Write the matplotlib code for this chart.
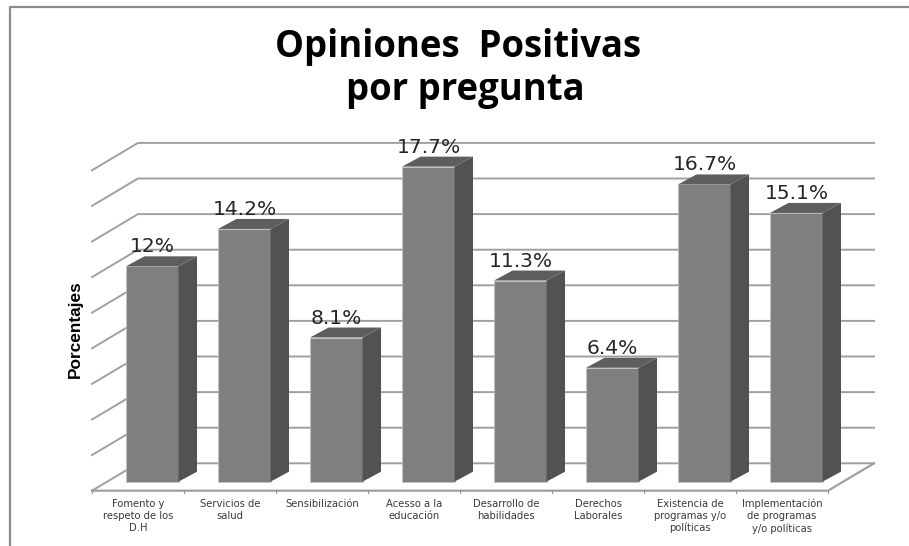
import numpy as np
import matplotlib
matplotlib.use('Agg')
import matplotlib.pyplot as plt
from matplotlib.lines import Line2D
from matplotlib.patches import Polygon

categories = ['Fomento y\nrespeto de los\nD.H', 'Servicios de\nsalud', 'Sensibilización',
              'Acesso a la\neducación', 'Desarrollo de\nhabilidades', 'Derechos\nLaborales',
              'Existencia de\nprogramas y/o\npolíticas', 'Implementación\nde programas\ny/o políticas']
values = [12.1, 14.2, 8.1, 17.7, 11.3, 6.4, 16.7, 15.1]
labels = ['12%', '14.2%', '8.1%', '17.7%', '11.3%', '6.4%', '16.7%', '15.1%']
grid_values = [0, 2, 4, 6, 8, 10, 12, 14, 16, 18]
title_lines = ['Opiniones  Positivas', 'por pregunta']

W, H = 909, 546
PX_X = 92.0    # pixels per category
PX_Y = 17.8    # pixels per percent
X0, Y0 = 92.0, 490.7   # pixel of the front floor corner

# depth of the fake 3d box, in data units
wall_dx = 46 / PX_X
wall_dy = 27.4 / PX_Y
bar_w = 52.5 / PX_X
bar_dx = 18.5 / PX_X
bar_dy = 10 / PX_Y
bar_x0 = (126 - X0) / PX_X
bar_y0 = 9 / PX_Y

fig = plt.figure(figsize=(W / 100, H / 100), dpi=100)
ax = fig.add_axes([0, 0, 1, 1])
ax.set_xlim(-X0 / PX_X, (W - X0) / PX_X)
ax.set_ylim((Y0 - H) / PX_Y, Y0 / PX_Y)
ax.axis('off')

n = len(values)
grid_col = '#a0a0a0'

# walls
for v in grid_values:
    ax.plot([0, wall_dx, n + wall_dx], [v, v + wall_dy, v + wall_dy], color=grid_col, lw=1.4, zorder=1)
ax.plot([0, n, n + wall_dx], [0, 0, wall_dy], color=grid_col, lw=1.6, zorder=1)
for i in range(n + 1):
    ax.plot([i, i], [0, -2.5 / PX_Y], color='#909090', lw=0.8, zorder=1)

# bars
for i, v in enumerate(values):
    left = i + bar_x0
    right = left + bar_w
    top = v + bar_y0
    ax.bar(left, v, width=bar_w, bottom=bar_y0, align='edge', color='#7f7f7f', edgecolor='#c4c4c4',
           linewidth=0.5, zorder=3)
    ax.add_patch(Polygon([(right, bar_y0), (right + bar_dx, bar_y0 + bar_dy), (right + bar_dx, top + bar_dy),
                          (right, top)], closed=True, facecolor='#525252', edgecolor='none', zorder=3))
    ax.add_patch(Polygon([(left, top), (left + bar_dx, top + bar_dy), (right + bar_dx, top + bar_dy),
                          (right, top)], closed=True, facecolor='#5e5e5e', edgecolor='none', zorder=3))
    ax.text(left + bar_w / 2 + 0.005, top + bar_dy + 4 / PX_Y, labels[i], ha='center', va='baseline',
            fontsize=14.6, color='#262626', zorder=4)

# category labels
for i, c in enumerate(categories):
    ax.text(i + 0.5, -8 / PX_Y, c, ha='center', va='top', fontsize=7.2, color='#3a3a3a',
            linespacing=1.25, zorder=4)

ax.text(-17 / PX_X, (Y0 - 329.5) / PX_Y, 'Porcentajes', rotation=90, ha='center', va='center',
        fontsize=12.4, fontweight='bold', color='black', family='Liberation Sans')

fig.text(458.5 / W, 1 - 57 / H, title_lines[0], ha='center', va='baseline', fontsize=26.3,
         fontweight='bold', color='black', family='Open Sans')
fig.text(465 / W, 1 - 100 / H, title_lines[1], ha='center', va='baseline', fontsize=26.3,
         fontweight='bold', color='black', family='Open Sans')

# outer frame
fig.add_artist(Line2D([9.5 / W, 9.5 / W, 1], [0, 1 - 6.5 / H, 1 - 6.5 / H], color='#8c8c8c', lw=1.6))

fig.savefig('out.png', dpi=100)
